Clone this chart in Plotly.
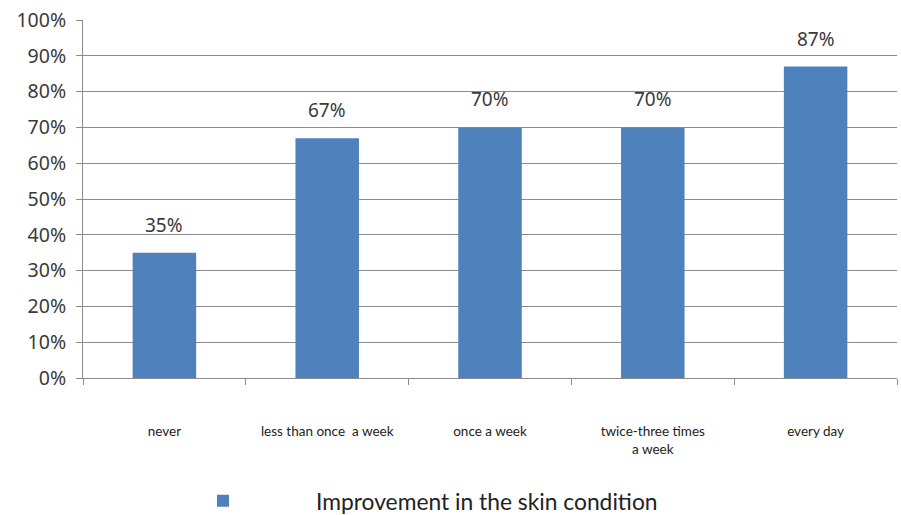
import plotly.graph_objects as go

categories = ["never", "less than once  a week", "once a week", "twice-three times<br>a week", "every day"]
values = [0.35, 0.67, 0.70, 0.70, 0.87]
value_labels = ["35%", "67%", "70%", "70%", "87%"]
series_name = "Improvement in the skin condition"
y_ticks = [i / 10 for i in range(11)]
y_tick_labels = [f"{i * 10}%" for i in range(11)]

bar_color = "#4F81BD"
grid_color = "#8C8C8C"
text_color = "#3A3A3A"

fig = go.Figure()
fig.add_trace(go.Bar(
    x=categories,
    y=values,
    name=series_name,
    marker=dict(color=bar_color, line=dict(width=0)),
    width=0.39,
    showlegend=True,
    hoverinfo="skip",
))

# value labels above each bar
for cat, val, lab in zip(categories, values, value_labels):
    fig.add_annotation(
        x=cat, y=val, xref="x", yref="y",
        text=lab, showarrow=False,
        yanchor="bottom", yshift=13,
        font=dict(family="Noto Sans", size=19, color=text_color),
    )

fig.update_layout(
    width=901, height=515,
    margin=dict(l=83, r=4, t=20, b=137),
    paper_bgcolor="white",
    plot_bgcolor="white",
    showlegend=True,
    legend=dict(
        orientation="h",
        xref="container", yref="container",
        x=130 / 901, y=14 / 515,
        xanchor="left", yanchor="middle",
        itemwidth=176,
        font=dict(family="Lato", size=22.8, color="#222222"),
        bgcolor="rgba(0,0,0,0)",
    ),
    font=dict(family="Noto Sans", color=text_color),
)

fig.update_yaxes(
    range=[0, 1],
    tickvals=y_ticks,
    ticktext=y_tick_labels,
    showgrid=True, gridcolor=grid_color, gridwidth=1,
    showline=True, linecolor=grid_color, linewidth=1,
    ticks="outside", ticklen=6, tickcolor=grid_color,
    ticklabelstandoff=6,
    tickfont=dict(family="Noto Sans", size=19.5, color=text_color),
    zeroline=False,
    fixedrange=True,
)

fig.update_xaxes(
    type="category",
    range=[-0.5, 4.5],
    showline=True, linecolor=grid_color, linewidth=1,
    ticks="outside", ticklen=6, tickcolor=grid_color,
    tickson="boundaries",
    ticklabelstandoff=41,
    tickfont=dict(family="Lato", size=13.5, color="#222222"),
    showgrid=False,
    fixedrange=True,
)

fig.write_html("out.html")
